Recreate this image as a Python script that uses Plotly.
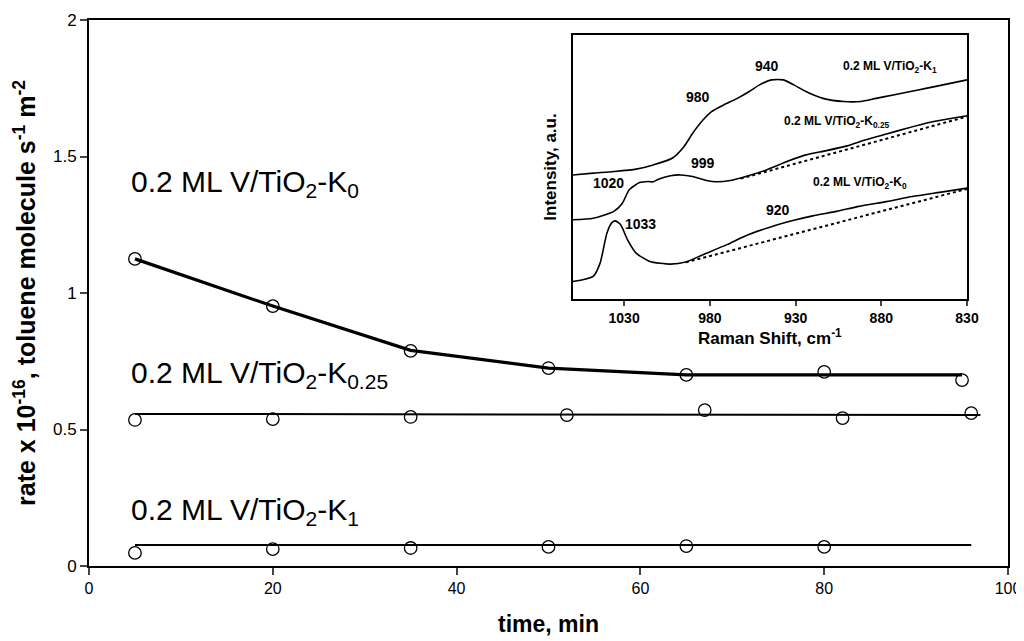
import plotly.graph_objects as go

# ---------------- main chart data ----------------
time_k0 = [5, 20, 35, 50, 65, 80, 95]
rate_k0 = [1.125, 0.952, 0.788, 0.725, 0.700, 0.711, 0.681]
fit_k0 = [1.125, 0.952, 0.790, 0.725, 0.700, 0.700, 0.700]

time_k025 = [5, 20, 35, 52, 67, 82, 96]
rate_k025 = [0.535, 0.538, 0.546, 0.553, 0.571, 0.542, 0.560]
fit_k025_t = [5, 97]
fit_k025 = [0.557, 0.553]

time_k1 = [5, 20, 35, 50, 65, 80]
rate_k1 = [0.048, 0.062, 0.066, 0.070, 0.073, 0.070]
fit_k1_t = [5, 96]
fit_k1 = [0.077, 0.077]

x_ticks = [0, 20, 40, 60, 80, 100]
y_ticks = [0, 0.5, 1, 1.5, 2]
y_ticklabels = ["0", "0.5", "1", "1.5", "2"]

# ---------------- inset (Raman) data ----------------
raman_k1_x = [1060, 1048, 1036, 1023, 1013, 1002, 995, 990, 984, 979, 972, 964, 957, 951,
              944, 937, 931, 924, 914, 902, 892, 883, 873, 863, 854, 844, 830]
raman_k1_y = [47.0, 47.7, 48.3, 49.2, 50.8, 53.3, 57.8, 62.8, 67.8, 71.0, 73.5, 76.0, 78.6, 81.1,
              83.0, 83.0, 81.1, 78.6, 76.0, 74.8, 74.8, 76.0, 77.3, 78.6, 79.8, 81.1, 83.0]

raman_k025_x = [1060, 1048, 1036, 1031, 1027, 1021, 1016, 1013, 1010, 1003, 997, 990, 982, 976,
                968, 959, 947, 935, 924, 912, 900, 889, 877, 865, 854, 842, 830]
raman_k025_y = [30.0, 30.6, 33.2, 36.3, 41.4, 44.1, 44.5, 44.4, 45.4, 46.7, 47.0, 46.4, 44.9, 44.4,
                44.9, 46.4, 48.9, 52.1, 54.6, 56.2, 58.0, 60.3, 62.5, 64.7, 66.6, 68.1, 69.4]
base_k025_x = [962, 830]
base_k025_y = [45.6, 69.1]

raman_k0_x = [1060, 1048, 1044, 1040, 1037, 1035, 1032, 1028, 1023, 1015, 1003, 994, 984, 970,
              959, 945, 931, 920, 906, 893, 877, 862, 846, 830]
raman_k0_y = [6.6, 8.6, 13.6, 25.0, 29.0, 29.6, 28.1, 22.4, 17.4, 14.2, 13.2, 14.0, 16.8, 20.6,
              24.0, 27.2, 29.8, 31.5, 33.2, 35.1, 36.9, 38.8, 40.4, 42.0]
base_k0_x = [994, 830]
base_k0_y = [13.9, 41.7]

raman_ticks = [1030, 980, 930, 880, 830]

# peak labels (text, x, y)
peak_labels = [("940", 946.5, 88.3), ("980", 986.7, 76.7), ("999", 984.2, 51.4),
               ("1020", 1039, 43.9), ("1033", 1020.3, 28.5), ("920", 940, 33.8)]
sample_labels = [("0.2 ML V/TiO<sub>2</sub>-K<sub>1</sub>", 875, 88.0),
                 ("0.2 ML V/TiO<sub>2</sub>-K<sub>0.25</sub>", 906, 67.2),
                 ("0.2 ML V/TiO<sub>2</sub>-K<sub>0</sub>", 892.5, 43.9)]

main_labels = [("0.2 ML V/TiO<sub>2</sub>-K<sub>0</sub>", 4.4, 1.40),
               ("0.2 ML V/TiO<sub>2</sub>-K<sub>0.25</sub>", 4.4, 0.70),
               ("0.2 ML V/TiO<sub>2</sub>-K<sub>1</sub>", 4.4, 0.20)]

FONT = "Liberation Sans, Arial, sans-serif"

fig = go.Figure()

mk = dict(symbol="circle-open", size=12.5, color="black", line=dict(width=1.3, color="black"))

fig.add_trace(go.Scatter(x=time_k0, y=fit_k0, mode="lines", line=dict(color="black", width=3.2),
                         showlegend=False))
fig.add_trace(go.Scatter(x=time_k0, y=rate_k0, mode="markers", marker=mk, showlegend=False))
fig.add_trace(go.Scatter(x=fit_k025_t, y=fit_k025, mode="lines", line=dict(color="black", width=2),
                         showlegend=False))
fig.add_trace(go.Scatter(x=time_k025, y=rate_k025, mode="markers", marker=mk, showlegend=False))
fig.add_trace(go.Scatter(x=fit_k1_t, y=fit_k1, mode="lines", line=dict(color="black", width=2),
                         showlegend=False))
fig.add_trace(go.Scatter(x=time_k1, y=rate_k1, mode="markers", marker=mk, showlegend=False))

# inset traces
for xs, ys in [(raman_k1_x, raman_k1_y), (raman_k025_x, raman_k025_y), (raman_k0_x, raman_k0_y)]:
    fig.add_trace(go.Scatter(x=xs, y=ys, mode="lines", line=dict(color="black", width=1.6, shape="spline",
                                                                 smoothing=0.6),
                             xaxis="x2", yaxis="y2", showlegend=False))
for xs, ys in [(base_k025_x, base_k025_y), (base_k0_x, base_k0_y)]:
    fig.add_trace(go.Scatter(x=xs, y=ys, mode="lines", line=dict(color="black", width=2, dash="dot"),
                             xaxis="x2", yaxis="y2", showlegend=False))

annotations = []
for t, x, y in main_labels:
    annotations.append(dict(text=t, x=x, y=y, xref="x", yref="y", xanchor="left", yanchor="middle",
                            showarrow=False, font=dict(family=FONT, size=30, color="black")))
for t, x, y in peak_labels:
    annotations.append(dict(text="<b>%s</b>" % t, x=x, y=y, xref="x2", yref="y2", showarrow=False,
                            font=dict(family=FONT, size=14, color="black")))
for t, x, y in sample_labels:
    annotations.append(dict(text="<b>%s</b>" % t, x=x, y=y, xref="x2", yref="y2", showarrow=False,
                            font=dict(family=FONT, size=12, color="black")))

# the page body adds an 8px offset; compensate so the plot area sits at screen x 89-1008, y 20-566
fig.update_layout(
    width=1016, height=633,
    margin=dict(l=81, r=16, t=12, b=75),
    paper_bgcolor="white", plot_bgcolor="white",
    font=dict(family=FONT, color="black"),
    xaxis=dict(range=[0, 100], tickvals=x_ticks, ticks="outside", ticklen=7, tickwidth=2,
               showline=True, linewidth=2, linecolor="black", mirror=True, showgrid=False,
               zeroline=False, tickfont=dict(size=16), automargin=False,
               title=dict(text="<b>time, min</b>", font=dict(size=23), standoff=20)),
    yaxis=dict(range=[0, 2], tickvals=y_ticks, ticktext=y_ticklabels, ticks="outside", ticklen=7,
               tickwidth=2, showline=True, linewidth=2, linecolor="black", mirror=True,
               showgrid=False, zeroline=False, tickfont=dict(size=17), automargin=False,
               title=dict(text="<b>rate x 10<sup>-16</sup>, toluene molecule s<sup>-1</sup> m<sup>-2</sup></b>",
                          font=dict(size=25), standoff=10)),
    xaxis2=dict(domain=[0.5263, 0.9554], anchor="y2", range=[1060, 830], tickvals=raman_ticks,
                ticktext=["<b>%d</b>" % v for v in raman_ticks], ticks="outside", ticklen=5,
                tickwidth=1.5, showline=True, linewidth=2, linecolor="black", mirror=True,
                showgrid=False, zeroline=False, tickfont=dict(size=14), automargin=False,
                title=dict(text="<b>Raman Shift, cm<sup>-1</sup></b>", font=dict(size=17), standoff=4)),
    yaxis2=dict(domain=[0.489, 0.9725], anchor="x2", range=[0, 100], showticklabels=False,
                ticks="", showline=True, linewidth=2, linecolor="black", mirror=True,
                showgrid=False, zeroline=False, automargin=False,
                title=dict(text="<b>Intensity, a.u.</b>", font=dict(size=17), standoff=10)),
    annotations=annotations,
)

fig.write_html("out.html")
